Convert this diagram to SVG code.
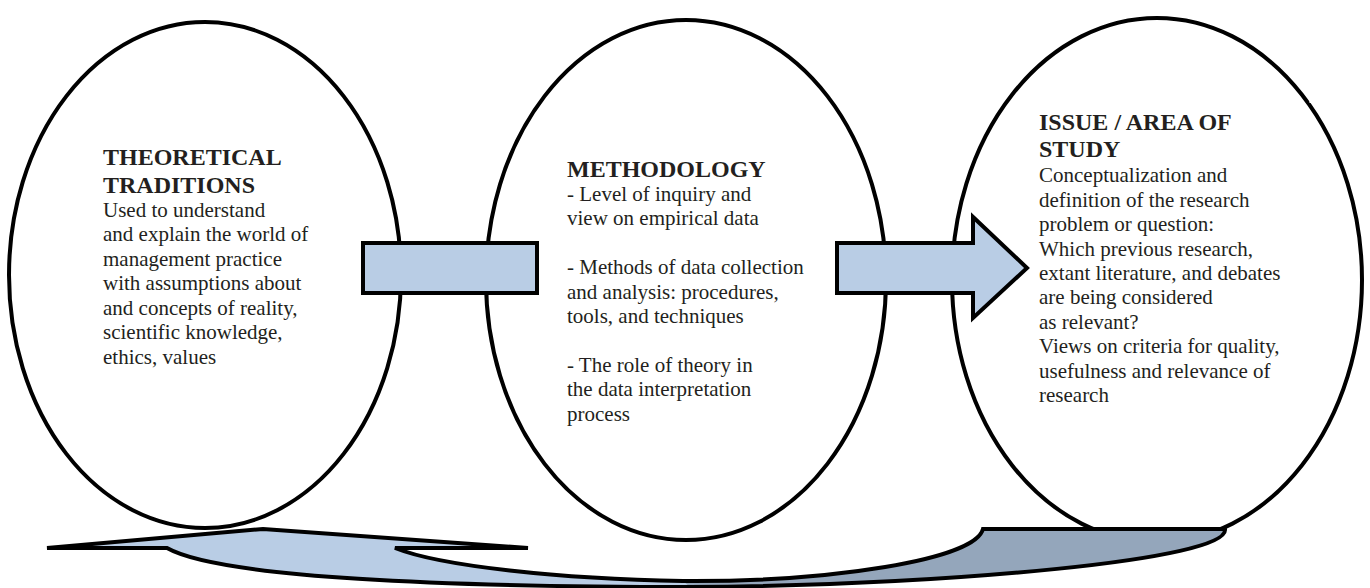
<svg xmlns="http://www.w3.org/2000/svg" width="1370" height="588" viewBox="0 0 1370 588">
<style>
.ell{fill:#fff;stroke:#000;stroke-width:4}
.arrow{fill:#B9CDE5;stroke:#000;stroke-width:4;stroke-linejoin:miter}
.t{font-family:"Liberation Serif","Times New Roman",serif;font-size:21px;fill:#231F20}
.b{font-family:"Liberation Serif","Times New Roman",serif;font-size:24px;font-weight:bold;fill:#231F20}
</style>
<rect width="1370" height="588" fill="#fff"/>
<g id="node-theoretical">
<ellipse class="ell" cx="205" cy="275" rx="196" ry="253"/>
</g>
<g id="node-methodology">
<ellipse class="ell" cx="686" cy="280" rx="200" ry="260"/>
</g>
<g id="node-issue">
<ellipse class="ell" cx="1157" cy="280" rx="205" ry="262"/>
<rect x="1309.5" y="97" width="2" height="6" fill="#fff"/>
</g>
<g id="connectors">
<rect class="arrow" x="363" y="243" width="174" height="50"/>
<path class="arrow" d="M837,243 L973,243 L973,217 L1027,268 L973,318 L973,293 L837,293 Z"/>
<g id="feedback-arrow">
<path fill="#B9CDE5" d="M47,548 L263,529 L528,548 L395,548 C440,566 560,579 683,581 C830,582 975,560 983,529 L1225,529 C1230,560 950,585 690,587 C450,587 220,578 167,548 Z"/>
<path fill="#94A6BB" d="M683,581 C830,582 975,560 983,529 L1225,529 C1230,560 950,585 690,587 Z"/>
<path fill="none" stroke="#000" stroke-width="4" stroke-linejoin="miter" d="M47,548 L263,529 L528,548 L395,548 C440,566 560,579 683,581 C830,582 975,560 983,529 L1225,529 C1230,560 950,585 690,587 C450,587 220,578 167,548 Z"/>
</g>
</g>
<g id="text-theoretical">
<text class="b" x="103" y="165">THEORETICAL</text>
<text class="b" x="103" y="192.7">TRADITIONS</text>
<text class="t" x="103" y="216.7">Used to understand</text>
<text class="t" x="103" y="241.2">and explain the world of</text>
<text class="t" x="103" y="265.7">management practice</text>
<text class="t" x="103" y="290.2">with assumptions about</text>
<text class="t" x="103" y="314.7">and concepts of reality,</text>
<text class="t" x="103" y="339.2">scientific knowledge,</text>
<text class="t" x="103" y="363.7">ethics, values</text>
</g>
<g id="text-methodology">
<text class="b" x="567" y="176.5">METHODOLOGY</text>
<text class="t" x="567" y="201">- Level of inquiry and</text>
<text class="t" x="567" y="225.4">view on empirical data</text>
<text class="t" x="567" y="274.2">- Methods of data collection</text>
<text class="t" x="567" y="298.6">and analysis: procedures,</text>
<text class="t" x="567" y="323">tools, and techniques</text>
<text class="t" x="567" y="371.8">- The role of theory in</text>
<text class="t" x="567" y="396.2">the data interpretation</text>
<text class="t" x="567" y="420.6">process</text>
</g>
<g id="text-issue">
<text class="b" x="1039" y="130">ISSUE / AREA OF</text>
<text class="b" x="1039" y="157.3">STUDY</text>
<text class="t" x="1039" y="182.3">Conceptualization and</text>
<text class="t" x="1039" y="206.7">definition of the research</text>
<text class="t" x="1039" y="231.1">problem or question:</text>
<text class="t" x="1039" y="255.5">Which previous research,</text>
<text class="t" x="1039" y="279.9">extant literature, and debates</text>
<text class="t" x="1039" y="304.3">are being considered</text>
<text class="t" x="1039" y="328.7">as relevant?</text>
<text class="t" x="1039" y="353.1">Views on criteria for quality,</text>
<text class="t" x="1039" y="377.5">usefulness and relevance of</text>
<text class="t" x="1039" y="401.9">research</text>
</g>
</svg>
